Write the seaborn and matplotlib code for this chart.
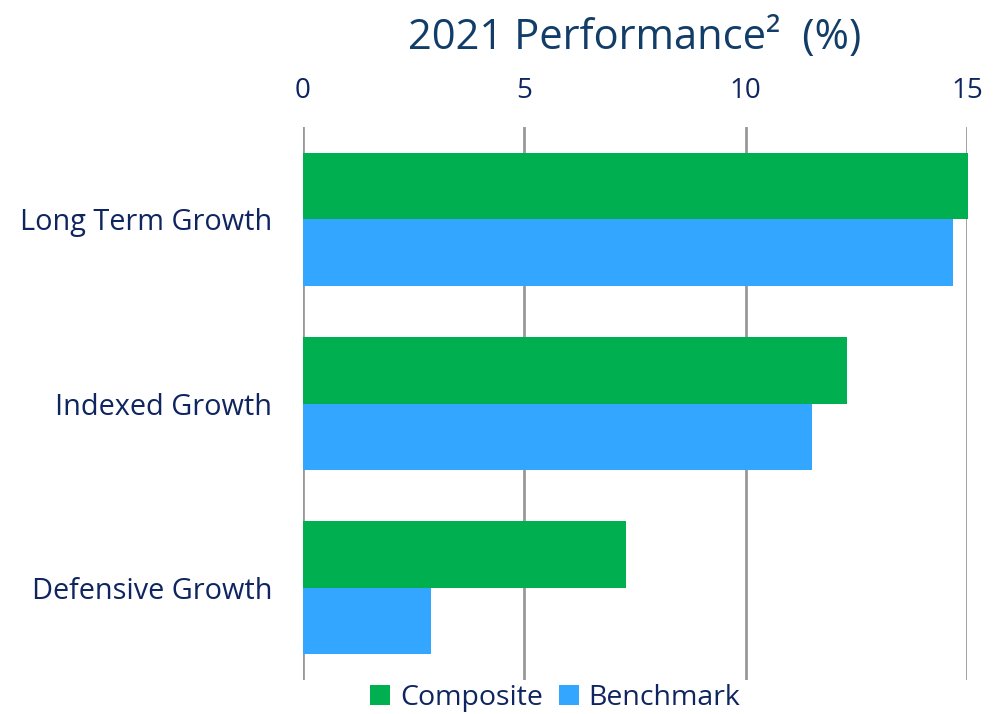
import matplotlib
matplotlib.use("Agg")
import matplotlib.pyplot as plt
import seaborn as sns
import pandas as pd

categories = ["Long Term Growth", "Indexed Growth", "Defensive Growth"]
composite = [15.03, 12.30, 7.30]
benchmark = [14.68, 11.50, 2.89]
series_names = ["Composite", "Benchmark"]
xticks = [0, 5, 10, 15]

df = pd.DataFrame({
    "category": categories * 2,
    "value": composite + benchmark,
    "series": [series_names[0]] * 3 + [series_names[1]] * 3,
})

sns.set_theme(style="white")
plt.rcParams['font.family'] = ['Open Sans', 'DejaVu Sans']

label_color = "#0f2560"
title_color = "#123d68"
palette = {"Composite": "#00AF50", "Benchmark": "#33A6FF"}

fig = plt.figure(figsize=(9.95, 7.14), dpi=100)
ax = fig.add_axes([0.3045, 0.0476, 0.6673, 0.7745])

sns.barplot(data=df, y="category", x="value", hue="series", order=categories,
            hue_order=series_names, palette=palette, orient="h", width=0.72,
            saturation=1, ax=ax, zorder=3, linewidth=0)
for p in ax.patches:
    p.set_clip_on(False)

ax.set_xlim(0, 15)
ax.set_ylim(2.5, -0.5)
ax.set_xticks(xticks)
ax.xaxis.tick_top()
ax.tick_params(axis="x", length=0, pad=16, labelsize=20, labelcolor=label_color)
ax.tick_params(axis="y", length=0, pad=22, labelsize=20.8, labelcolor=label_color)
ax.set_xlabel("")
ax.set_ylabel("")
for s in ax.spines.values():
    s.set_visible(False)
ax.grid(axis="x", color="#999999", linewidth=2, zorder=0)
ax.set_axisbelow(True)

ax.set_title("2021 Performance²  (%)", fontsize=30, color=title_color, pad=56)

handles, labels = ax.get_legend_handles_labels()
ax.get_legend().remove()
fig.legend(handles, labels, loc="center", bbox_to_anchor=(0.558, 0.022), ncol=2,
           frameon=False, fontsize=20.5, labelcolor=label_color,
           handlelength=0.7, handleheight=0.7, handletextpad=0.35,
           columnspacing=0.55, borderpad=0)

fig.savefig("out.png", dpi=100)
